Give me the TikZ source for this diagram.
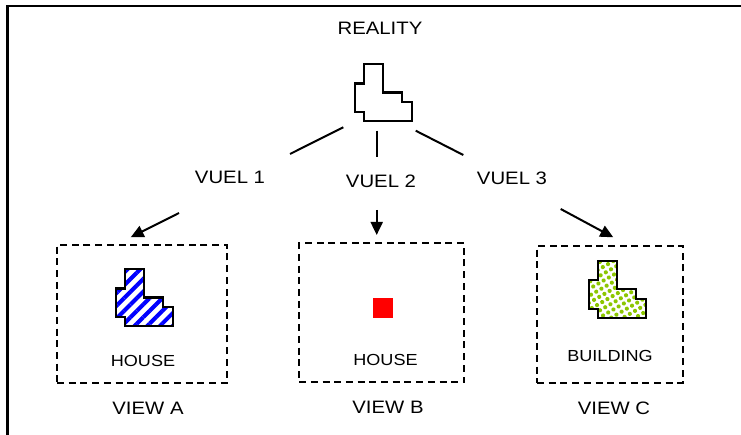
\documentclass[tikz,border=0pt]{standalone}
\usepackage{fontspec}
\setmainfont[FakeStretch=1.13]{Liberation Sans}
\usetikzlibrary{arrows.meta,patterns.meta}
\definecolor{dotgreen}{RGB}{140,198,0}
\tikzset{
  lshape/.pic={
    \draw[pic actions] (9.3,0) -- (28.3,0) -- (28.3,28.2) -- (47.3,28.2) -- (47.3,37.9)
      -- (57,37.9) -- (57,57) -- (9.3,57) -- (9.3,47.7) -- (0,47.7) -- (0,19.2)
      -- (9.3,19.2) -- cycle;
  }
}
\begin{document}
\begin{tikzpicture}[x=1pt,y=-1pt,
  lbl/.style={font=\fontsize{18}{20}\selectfont, inner sep=0pt},
  small/.style={font=\fontsize{16}{18}\selectfont, inner sep=0pt},
  viewbox/.style={draw, line width=2.1pt, dash pattern=on 7pt off 4.7pt, inner sep=0pt},
  conn/.style={line width=2pt},
  arr/.style={conn, -{Triangle[length=13pt,width=12pt]}},
  outline/.style={line width=2.3pt, line join=miter}]
\useasboundingbox (0,0) rectangle (741,435);
% outer frame
\draw[line width=2.2pt] (7.5,445) -- (7.5,5.7) -- (750,5.7);

% reality
\node[lbl] (reality) at (380,28) {REALITY};
\pic[outline] (realshape) at (354.7,64.3) {lshape};

% view boxes
\node[viewbox, minimum width=170pt, minimum height=138pt] (boxA) at (142,314) {};
\node[viewbox, minimum width=165pt, minimum height=139pt] (boxB) at (381.6,312.8) {};
\node[viewbox, minimum width=146pt, minimum height=137pt] (boxC) at (610,314.3) {};

% shapes in boxes
\pic[outline, pattern={Lines[angle=45,distance=9pt,line width=4pt]}, pattern color=blue] (houseA) at (115.7,269.3) {lshape};
\fill[red] (372.7,298) rectangle (392.7,318);
\node[inner sep=0pt, minimum size=20pt] (houseB) at (382.7,308) {};
\pic[outline, pattern={Dots[angle=30,distance=6pt,radius=2.1pt]}, pattern color=dotgreen] (buildC) at (589,261) {lshape};

% labels in boxes
\node[small] (tA) at (143,361) {HOUSE};
\node[small] (tB) at (385.5,359.7) {HOUSE};
\node[small] (tC) at (610,356) {BUILDING};

% view labels
\node[lbl] (vA) at (148,408) {VIEW A};
\node[lbl] (vB) at (388,407) {VIEW B};
\node[lbl] (vC) at (614,408) {VIEW C};

% vuel labels
\node[lbl] (v1) at (230,177.5) {VUEL 1};
\node[lbl] (v2) at (381,181) {VUEL 2};
\node[lbl] (v3) at (512,178.5) {VUEL 3};

% connector end points
\coordinate (l1s) at (343.3,127.3); \coordinate (l1e) at (290,154);
\coordinate (l2s) at (376.7,130.7); \coordinate (l2e) at (376.7,157.3);
\coordinate (l3s) at (415.7,130.7); \coordinate (l3e) at (463.3,155);
\coordinate (a1s) at (179,213);     \coordinate (a1e) at (130.7,237.3);
\coordinate (a2s) at (376.7,210);   \coordinate (a2e) at (376.7,235);
\coordinate (a3s) at (560.7,209);   \coordinate (a3e) at (613.3,237.3);

\draw[conn] (l1s) -- (l1e);
\draw[conn] (l2s) -- (l2e);
\draw[conn] (l3s) -- (l3e);
\draw[arr] (a1s) -- (a1e);
\draw[arr] (a2s) -- (a2e);
\draw[arr] (a3s) -- (a3e);
\end{tikzpicture}
\end{document}
